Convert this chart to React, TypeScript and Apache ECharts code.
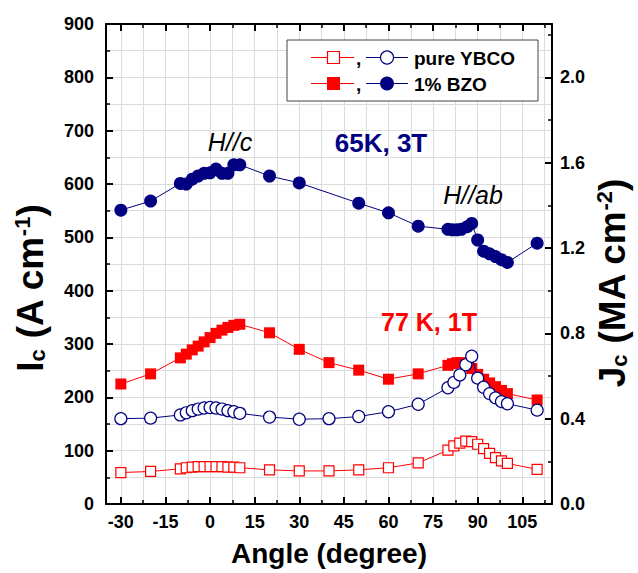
import React, { useEffect, useRef } from "react";
import * as echarts from "echarts";

// ---------- data ----------
const angleYBCO = [-30, -20, -10, -8, -6, -4, -2, 0, 2, 4, 6, 8, 10, 20, 30, 40, 50, 60, 70, 80, 82, 84, 86, 88, 90, 92, 94, 96, 98, 100, 110];
const icYBCO77 = [59, 61, 66, 68, 69, 70, 70, 70, 70, 70, 69, 69, 68, 64, 62, 62, 64, 68, 77, 101, 109, 114, 118, 117, 112, 104, 95, 87, 81, 76, 65];
const icYBCO65 = [160, 161, 167, 171, 175, 178, 180, 181, 180, 178, 175, 173, 170, 163, 159, 160, 164, 173, 187, 218, 228, 242, 261, 277, 236, 219, 207, 199, 192, 188, 176];

const angleBZO77 = [-30, -20, -10, -8, -6, -4, -2, 0, 2, 4, 6, 8, 10, 20, 30, 40, 50, 60, 70, 80, 81.5, 83, 84.5, 86.5, 88, 90, 92, 94, 96, 98, 100, 110];
const icBZO77 = [225, 244, 274, 281, 289, 296, 304, 312, 320, 326, 331, 335, 337, 321, 290, 265, 251, 234, 244, 260, 263, 265, 265, 262, 254, 243, 234, 227, 220, 213, 207, 195];

const angleBZO65 = [-30, -20, -10, -8, -6, -4, -2, 0, 2, 4, 6, 8, 10, 20, 30, 50, 60, 70, 80, 81.5, 83, 84.5, 86.5, 88, 90, 92, 94, 96, 98, 100, 110];
const icBZO65 = [551, 568, 601, 600, 609, 615, 620, 621, 628, 620, 620, 636, 636, 615, 602, 564, 546, 521, 515, 514, 514, 515, 520, 526, 495, 474, 469, 464, 458, 453, 489];

const xMajorTicks = [-30, -15, 0, 15, 30, 45, 60, 75, 90, 105];
const xMinorTicks = [-30, -22.5, -15, -7.5, 0, 7.5, 15, 22.5, 30, 37.5, 45, 52.5, 60, 67.5, 75, 82.5, 90, 97.5, 105, 112.5];
const jcMajorTicks = [0, 0.4, 0.8, 1.2, 1.6, 2.0];
const jcMinorTicks = [0.2, 0.6, 1.0, 1.4, 1.8, 2.2];

const legendNames = ["pure YBCO", "1% BZO"];

const RED = "#ff0000";
const NAVY = "#000080";
const FONT = "'Liberation Sans', Arial, Helvetica, sans-serif";
const GRIDC = "#dcdcdc";

const zip = (xs: number[], ys: number[]) => xs.map((x, i) => [x, ys[i]]);

export default function App() {
  const ref = useRef<HTMLDivElement>(null);
  useEffect(() => {
    if (!ref.current) return;
    const chart = echarts.init(ref.current, null, { renderer: "svg" });

    const baseX = { type: "value", min: -35, max: 115, gridIndex: 0 };
    const lbl = { color: "#000", fontSize: 18, fontWeight: "bold", fontFamily: FONT };
    const titleRich = {
      m: { fontSize: 37, fontWeight: "bold", fontFamily: FONT, fill: "#000", verticalAlign: "middle" },
      s: { fontSize: 22, fontWeight: "bold", fontFamily: FONT, fill: "#000", verticalAlign: "bottom" },
      p: { fontSize: 22, fontWeight: "bold", fontFamily: FONT, fill: "#000", verticalAlign: "top" },
    };

    const option: any = {
      animation: false,
      backgroundColor: "#fff",
      grid: { left: 106, top: 24, width: 446, height: 480 },
      xAxis: [
        {
          ...baseX,
          position: "bottom",
          axisLine: { show: true, onZero: false, lineStyle: { color: "#000", width: 2 } },
          axisTick: { show: true, inside: true, length: 7, lineStyle: { color: "#000", width: 2 }, customValues: xMajorTicks },
          axisLabel: { ...lbl, margin: 9, customValues: xMajorTicks },
          splitLine: { show: false },
        },
        {
          ...baseX,
          position: "bottom",
          axisLine: { show: false, onZero: false },
          axisTick: { show: true, inside: true, length: 4, lineStyle: { color: "#000", width: 1.5 }, customValues: xMinorTicks },
          axisLabel: { show: false },
          splitLine: { show: true, lineStyle: { color: GRIDC, width: 1 } },
        },
        {
          ...baseX,
          position: "top",
          axisLine: { show: true, onZero: false, lineStyle: { color: "#000", width: 2 } },
          axisTick: { show: true, inside: true, length: 7, lineStyle: { color: "#000", width: 2 }, customValues: xMajorTicks },
          axisLabel: { show: false },
          splitLine: { show: false },
        },
        {
          ...baseX,
          position: "top",
          axisLine: { show: false, onZero: false },
          axisTick: { show: true, inside: true, length: 4, lineStyle: { color: "#000", width: 1.5 }, customValues: xMinorTicks },
          axisLabel: { show: false },
          splitLine: { show: false },
        },
      ],
      yAxis: [
        {
          type: "value",
          min: 0,
          max: 900,
          interval: 100,
          position: "left",
          axisLine: { show: true, onZero: false, lineStyle: { color: "#000", width: 2 } },
          axisTick: { show: true, inside: true, length: 7, lineStyle: { color: "#000", width: 2 } },
          minorTick: { show: true, splitNumber: 2, length: 4, lineStyle: { color: "#000", width: 1.5 } },
          axisLabel: { ...lbl, margin: 12 },
          splitLine: { show: true, lineStyle: { color: GRIDC, width: 1 } },
          minorSplitLine: { show: true, lineStyle: { color: GRIDC, width: 1 } },
        },
        {
          type: "value",
          min: 0,
          max: 2.25,
          position: "right",
          axisLine: { show: true, onZero: false, lineStyle: { color: "#000", width: 2 } },
          axisTick: { show: true, inside: true, length: 7, lineStyle: { color: "#000", width: 2 }, customValues: jcMajorTicks },
          axisLabel: { ...lbl, margin: 8, customValues: jcMajorTicks, formatter: (v: number) => v.toFixed(1) },
          splitLine: { show: false },
        },
        {
          type: "value",
          min: 0,
          max: 2.25,
          position: "right",
          axisLine: { show: false, onZero: false },
          axisTick: { show: true, inside: true, length: 4, lineStyle: { color: "#000", width: 1.5 }, customValues: jcMinorTicks },
          axisLabel: { show: false },
          splitLine: { show: false },
        },
      ],
      series: [
        {
          type: "line",
          name: "pure YBCO 77K",
          data: zip(angleYBCO, icYBCO77),
          symbol: "rect",
          symbolSize: 10,
          lineStyle: { color: RED, width: 1 },
          itemStyle: { color: "#fff", borderColor: RED, borderWidth: 1.2 },
          z: 3,
        },
        {
          type: "line",
          name: "1% BZO 77K",
          data: zip(angleBZO77, icBZO77),
          symbol: "rect",
          symbolSize: 11,
          lineStyle: { color: RED, width: 1 },
          itemStyle: { color: RED, borderWidth: 0 },
          z: 4,
        },
        {
          type: "line",
          name: "pure YBCO 65K",
          data: zip(angleYBCO, icYBCO65),
          symbol: "circle",
          symbolSize: 12,
          lineStyle: { color: NAVY, width: 1 },
          itemStyle: { color: "#fff", borderColor: NAVY, borderWidth: 1.2 },
          z: 5,
        },
        {
          type: "line",
          name: "1% BZO 65K",
          data: zip(angleBZO65, icBZO65),
          symbol: "circle",
          symbolSize: 13,
          lineStyle: { color: NAVY, width: 1 },
          itemStyle: { color: NAVY, borderWidth: 0 },
          z: 6,
        },
      ],
      graphic: [
        // legend
        { type: "rect", z: 100, shape: { x: 287, y: 40, width: 251, height: 61 }, style: { fill: "#fff", stroke: "#444", lineWidth: 1 } },
        { type: "line", z: 101, shape: { x1: 311, y1: 57.5, x2: 354, y2: 57.5 }, style: { stroke: RED, lineWidth: 1 } },
        { type: "rect", z: 102, shape: { x: 327.5, y: 51.5, width: 12, height: 12 }, style: { fill: "#fff", stroke: RED, lineWidth: 1.2 } },
        { type: "text", z: 102, x: 356, y: 58, style: { text: ",", font: `bold 19px ${FONT}`, fill: "#000", align: "left", verticalAlign: "middle" } },
        { type: "line", z: 101, shape: { x1: 366, y1: 57.5, x2: 408, y2: 57.5 }, style: { stroke: NAVY, lineWidth: 1 } },
        { type: "circle", z: 102, shape: { cx: 387, cy: 57.5, r: 6.5 }, style: { fill: "#fff", stroke: NAVY, lineWidth: 1.2 } },
        { type: "text", z: 102, x: 414, y: 58, style: { text: legendNames[0], font: `bold 19px ${FONT}`, fill: "#000", align: "left", verticalAlign: "middle" } },
        { type: "line", z: 101, shape: { x1: 311, y1: 83.5, x2: 354, y2: 83.5 }, style: { stroke: RED, lineWidth: 1 } },
        { type: "rect", z: 102, shape: { x: 327, y: 77, width: 13, height: 13 }, style: { fill: RED, stroke: RED, lineWidth: 0 } },
        { type: "text", z: 102, x: 356, y: 84, style: { text: ",", font: `bold 19px ${FONT}`, fill: "#000", align: "left", verticalAlign: "middle" } },
        { type: "line", z: 101, shape: { x1: 366, y1: 83.5, x2: 408, y2: 83.5 }, style: { stroke: NAVY, lineWidth: 1 } },
        { type: "circle", z: 102, shape: { cx: 387, cy: 83.5, r: 7 }, style: { fill: NAVY, stroke: NAVY, lineWidth: 0 } },
        { type: "text", z: 102, x: 414, y: 84, style: { text: legendNames[1], font: `bold 19px ${FONT}`, fill: "#000", align: "left", verticalAlign: "middle" } },
        // annotations
        { type: "text", z: 50, x: 230, y: 142, style: { text: "H//c", font: `italic 25px ${FONT}`, fill: "#000", align: "center", verticalAlign: "middle" } },
        { type: "text", z: 50, x: 381, y: 143, style: { text: "65K, 3T", font: `bold 26px ${FONT}`, fill: NAVY, align: "center", verticalAlign: "middle" } },
        { type: "text", z: 50, x: 473, y: 195, style: { text: "H//ab", font: `italic 25px ${FONT}`, fill: "#000", align: "center", verticalAlign: "middle" } },
        { type: "text", z: 50, x: 429, y: 322, style: { text: "77 K, 1T", font: `bold 25px ${FONT}`, fill: RED, align: "center", verticalAlign: "middle" } },
        // axis titles
        { type: "text", z: 50, x: 329, y: 553, style: { text: "Angle (degree)", font: `bold 28px ${FONT}`, fill: "#000", align: "center", verticalAlign: "middle" } },
        {
          type: "text", z: 50, x: 30, y: 288, rotation: Math.PI / 2,
          style: { text: "{m|I}{s|c}{m| (A cm}{p|-1}{m|)}", align: "center", verticalAlign: "middle", fill: "#000", rich: titleRich },
        },
        {
          type: "text", z: 50, x: 612, y: 283, rotation: Math.PI / 2,
          style: { text: "{m|J}{s|c}{m| (MA cm}{p|-2}{m|)}", align: "center", verticalAlign: "middle", fill: "#000", rich: titleRich },
        },
      ],
    };

    chart.setOption(option);
    return () => chart.dispose();
  }, []);

  return <div ref={ref} style={{ position: "fixed", left: 0, top: 0, width: 638, height: 573, background: "#fff" }} />;
}
